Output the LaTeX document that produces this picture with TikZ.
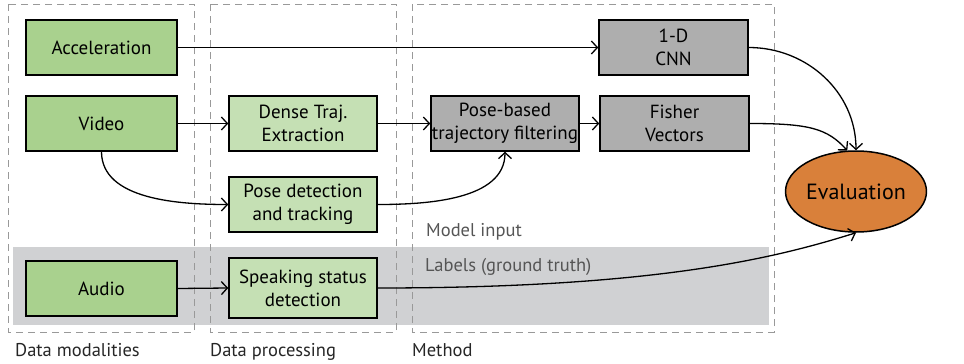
\documentclass[tikz,border=0pt]{standalone}
\usepackage{fontspec}
\setmainfont{PT Sans}
\usetikzlibrary{arrows.meta,shapes.geometric}
\definecolor{dgreen}{HTML}{A9D18E}
\definecolor{lgreen}{HTML}{C5E0B4}
\definecolor{mgray}{HTML}{AEAEAE}
\definecolor{bandgray}{HTML}{D0D1D3}
\definecolor{orng}{HTML}{D9803A}
\definecolor{dashgray}{HTML}{999999}
\definecolor{txtgray}{HTML}{555555}
\tikzset{
  box/.style={draw=black, line width=1.5pt, minimum height=55pt, align=center, inner sep=1pt,
    font=\fontsize{19}{23}\selectfont},
  modbox/.style={box, fill=dgreen, minimum width=151pt},
  procbox/.style={box, fill=lgreen, minimum width=148pt},
  methbox/.style={box, fill=mgray, minimum width=148pt},
  region/.style={draw=dashgray, line width=1pt, dash pattern=on 7pt off 5pt},
  conn/.style={line width=1.3pt, -{Straight Barb[length=6pt,width=13pt,line width=1.3pt]}},
  caption/.style={anchor=base west, inner sep=0pt, font=\fontsize{18.5}{22}\selectfont},
}
\begin{document}
\begin{tikzpicture}[x=1pt,y=-1pt]
\useasboundingbox (0,0) rectangle (964,364);
% band
\fill[bandgray] (13,247) rectangle (769,325);
% regions
\draw[region] (8,4) rectangle (194,332);
\draw[region] (210,4) rectangle (396,332);
\draw[region] (412,4) rectangle (774,332);
% nodes
\node[modbox] (acc) at (101.5,47.5) {Acceleration};
\node[modbox] (vid) at (101.5,123.5) {Video};
\node[modbox] (aud) at (101.5,288.5) {Audio};
\node[procbox] (dense) at (303,123.5) {Dense Traj.\\Extraction};
\node[procbox] (pose) at (303,204.5) {Pose detection\\and tracking};
\node[procbox, minimum height=60pt] (speak) at (303,288) {Speaking status\\detection};
\node[methbox] (pbf) at (505,123.5) {Pose-based\\trajectory filtering};
\node[methbox, minimum width=149pt] (fish) at (674.5,123.5) {Fisher\\Vectors};
\node[methbox, minimum width=149pt] (cnn) at (673.5,47.5) {1-D\\CNN};
\node[draw=black, line width=1.5pt, fill=orng, ellipse, minimum width=136pt, minimum height=81pt,
  inner sep=0pt, font=\fontsize{22}{26}\selectfont] (eval) at (856,191.5) {Evaluation};
% texts
\node[caption, text=txtgray] (mi) at (426,236) {Model input};
\node[caption, text=txtgray] (lg) at (425,271) {Labels (ground truth)};
\node[caption, text=black!85] (dm) at (15,356) {Data modalities};
\node[caption, text=black!85] (dp) at (210,356) {Data processing};
\node[caption, text=black!85] (me) at (412,356) {Method};
% connectors
\draw[conn] (acc.east) -- (cnn.west);
\draw[conn] (vid.east) -- (dense.west);
\draw[conn] (aud.east) -- (speak.west);
\draw[conn] (dense.east) -- (pbf.west);
\draw[conn] (pbf.east) -- (fish.west);
\draw[conn] (vid.south) to[out=-90,in=180,looseness=0.9] (pose.west);
\draw[conn] (pose.east) to[out=0,in=-90,looseness=0.9] (pbf.south);
\draw[conn] (cnn.east) to[out=0,in=90,looseness=1] (eval.north);
\draw[conn] (fish.east) .. controls +(60,0) and +(-20,-22) .. (eval.102);
\draw[conn] (speak.east) .. controls +(280,0) and +(-80,25) .. (eval.south);
\end{tikzpicture}
\end{document}
